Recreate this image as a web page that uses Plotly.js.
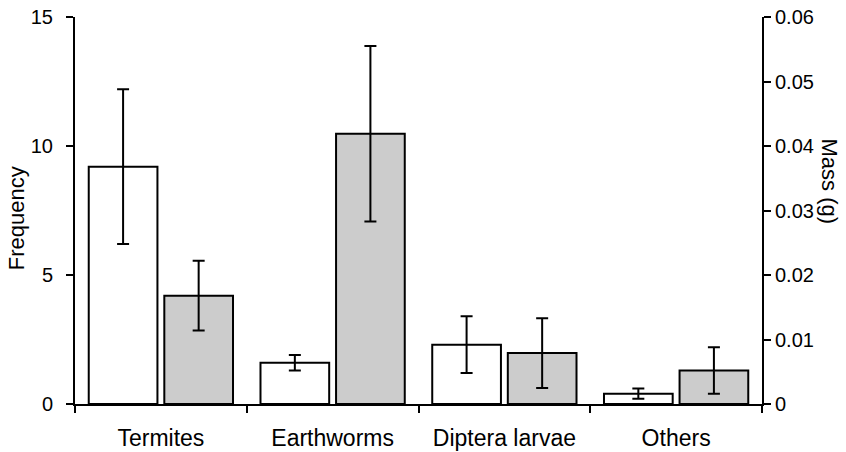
<!DOCTYPE html>
<html>
<head>
<meta charset="utf-8">
<script src="https://cdn.plot.ly/plotly-3.0.1.min.js"></script>
<style>html,body{margin:0;padding:0;background:#fff;}#chart{width:846px;height:452px;}</style>
</head>
<body>
<div id="chart"></div>
<script>
const categories = ['Termites', 'Earthworms', 'Diptera larvae', 'Others'];
const frequency = [9.2, 1.6, 2.3, 0.4];
const frequencyErr = [3.0, 0.3, 1.1, 0.2];
const mass = [0.0168, 0.0419, 0.0079, 0.0052];
const massErr = [0.0054, 0.0136, 0.0054, 0.0036];
const leftTicks = [0, 5, 10, 15];
const rightTicks = [0, 0.01, 0.02, 0.03, 0.04, 0.05, 0.06];

const FONT = 'Liberation Sans, Arial, sans-serif';

const traces = [
  {
    type: 'bar', x: categories, y: frequency, yaxis: 'y',
    width: 0.40, offset: -0.42,
    marker: {color: '#ffffff', line: {color: '#000000', width: 2}},
    error_y: {type: 'data', array: frequencyErr, visible: true, color: '#000000', thickness: 2, width: 6},
    hoverinfo: 'none'
  },
  {
    type: 'bar', x: categories, y: mass, yaxis: 'y2',
    width: 0.40, offset: 0.02,
    marker: {color: '#cccccc', line: {color: '#000000', width: 2}},
    error_y: {type: 'data', array: massErr, visible: true, color: '#000000', thickness: 2, width: 6},
    hoverinfo: 'none'
  }
];

const layout = {
  width: 846, height: 452,
  margin: {l: 75, r: 84, t: 17, b: 48, pad: 0},
  paper_bgcolor: '#ffffff', plot_bgcolor: '#ffffff',
  showlegend: false,
  font: {family: FONT, color: '#000000'},
  barmode: 'overlay',
  xaxis: {
    type: 'category', range: [-0.5, 3.5],
    showline: true, linecolor: '#000000', linewidth: 2,
    ticks: 'outside', tickson: 'boundaries', ticklen: 7, tickwidth: 2, tickcolor: '#000000',
    ticklabelstandoff: 12,
    tickfont: {family: FONT, size: 23, color: '#000000'},
    showgrid: false, zeroline: false, fixedrange: true
  },
  yaxis: {
    range: [0, 15], tickvals: leftTicks,
    showline: true, linecolor: '#000000', linewidth: 2,
    ticks: 'outside', ticklen: 7, tickwidth: 2, tickcolor: '#000000',
    ticklabelstandoff: 9,
    tickfont: {family: FONT, size: 20, color: '#000000'},
    showgrid: false, zeroline: false, fixedrange: true
  },
  yaxis2: {
    overlaying: 'y', side: 'right', anchor: 'x',
    range: [0, 0.06], tickvals: rightTicks,
    showline: true, linecolor: '#000000', linewidth: 2,
    ticks: 'outside', ticklen: 7, tickwidth: 2, tickcolor: '#000000',
    tickfont: {family: FONT, size: 20, color: '#000000'},
    showgrid: false, zeroline: false, fixedrange: true
  },
  annotations: [
    {text: 'Frequency', xref: 'paper', yref: 'paper', x: -0.086, y: 0.48,
     xanchor: 'center', yanchor: 'middle', textangle: -90, showarrow: false,
     font: {family: FONT, size: 22, color: '#000000'}},
    {text: 'Mass (g)', xref: 'paper', yref: 'paper', x: 1.099, y: 0.575,
     xanchor: 'center', yanchor: 'middle', textangle: 90, showarrow: false,
     borderpad: 0,
     font: {family: FONT, size: 22, color: '#000000'}}
  ]
};

Plotly.newPlot('chart', traces, layout, {staticPlot: true, displayModeBar: false});
</script>
</body>
</html>
